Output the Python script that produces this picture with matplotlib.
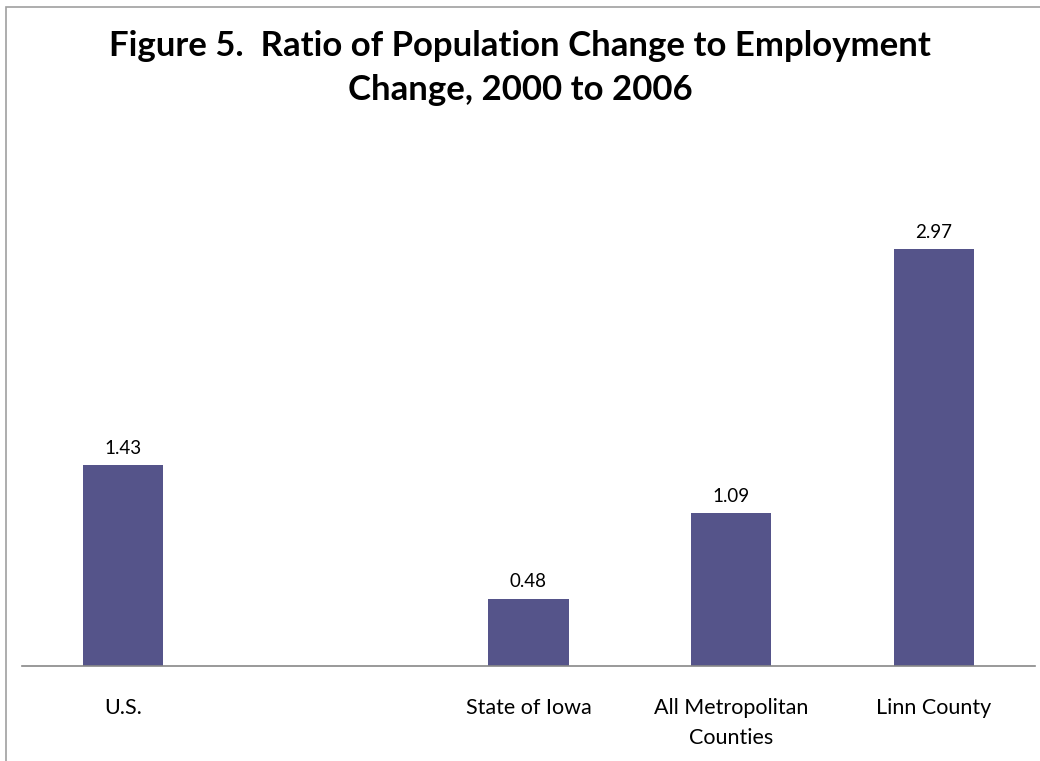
import matplotlib.pyplot as plt
from matplotlib.patches import Rectangle

categories = ["U.S.", "", "State of Iowa", "All Metropolitan\nCounties", "Linn County"]
ratios = [1.43, None, 0.48, 1.09, 2.97]

plt.rcParams['font.family'] = ['Lato', 'DejaVu Sans']

fig = plt.figure(figsize=(10.4, 7.61), dpi=100)

# thin grey frame around the chart area
fig.patches.append(Rectangle((6 / 1040, -0.01), 1.02, 1 - 7 / 761 + 0.01,
                             transform=fig.transFigure, fill=False,
                             edgecolor='#a0a0a0', linewidth=1.2))

ax = fig.add_axes([22 / 1040, 95 / 761, 1013 / 1040, 491.4 / 761])

xs = [i for i, v in enumerate(ratios) if v is not None]
vals = [v for v in ratios if v is not None]
bars = ax.bar(xs, vals, width=0.395, color='#55548A')

for b, v in zip(bars, vals):
    ax.annotate(f"{v:.2f}", (b.get_x() + b.get_width() / 2, v),
                xytext=(0, 6), textcoords='offset points',
                ha='center', va='bottom', fontsize=13.5)

ax.set_xlim(-0.5, 4.5)
ax.set_ylim(0, 3.5)
ax.set_xticks(range(len(categories)))
ax.set_xticklabels(categories, fontsize=15.5, linespacing=1.6)
ax.tick_params(axis='x', length=0, pad=23)
ax.set_yticks([])
for side in ['top', 'right', 'left']:
    ax.spines[side].set_visible(False)
ax.spines['bottom'].set_color('#888888')
ax.spines['bottom'].set_linewidth(1.2)

fig.text(0.5, 1 - 68 / 761, "Figure 5.  Ratio of Population Change to Employment\nChange, 2000 to 2006",
         ha='center', va='center', fontsize=25, fontweight='bold', linespacing=1.45)

fig.savefig("out.png", dpi=100)
